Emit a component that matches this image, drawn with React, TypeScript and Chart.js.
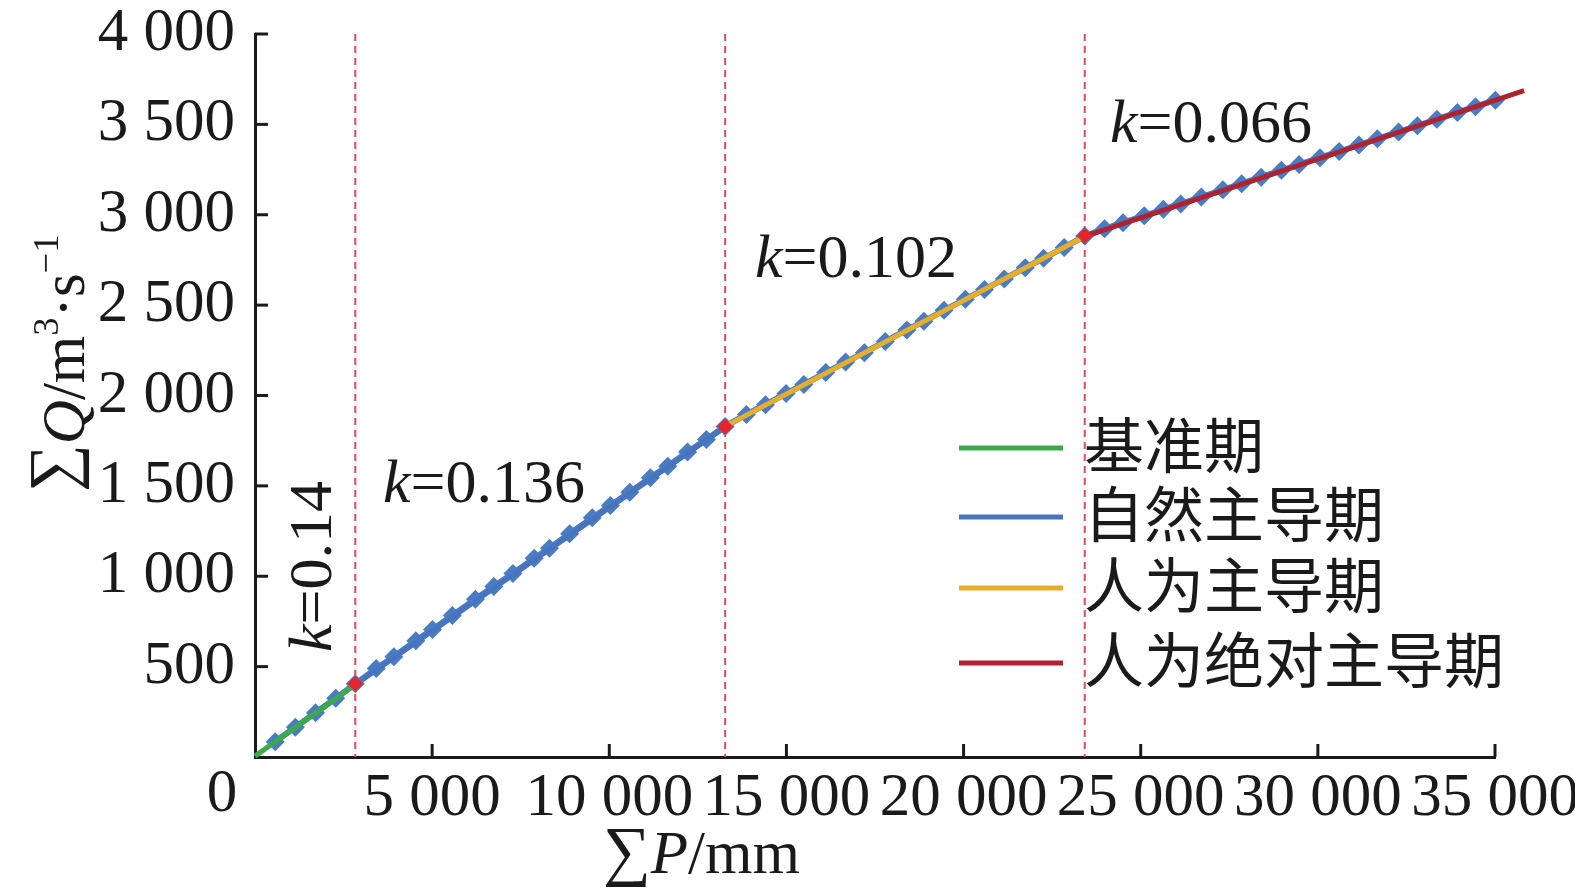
import React, { useEffect, useRef } from 'react';
import { Chart, registerables } from 'chart.js';

Chart.register(...registerables);

// cumulative precipitation (mm) and cumulative runoff (m3/s), one point per year
const cumP = [
  570, 1140, 1710, 2280, 2830,
  3420, 3920, 4540, 5010, 5570, 6220, 6740, 7280, 7880, 8310,
  8880, 9520, 10030, 10580, 11160, 11650, 12210, 12740, 13270,
  13870, 14410, 14990, 15490, 16110, 16670, 17200, 17790, 18400,
  18880, 19450, 20050, 20590, 21150, 21740, 22260, 22840, 23420,
  23980, 24500, 25100, 25640, 26130, 26710, 27320, 27850, 28400, 28970, 29470,
  30060, 30600, 31160, 31680, 32280, 32810, 33360, 33940, 34450, 35010, 35550,
];
const cumQ = [
  85, 165, 245, 325, 405,
  489, 555, 643, 705, 783, 873, 943, 1015, 1099, 1155,
  1235, 1323, 1391, 1465, 1545, 1609, 1687, 1757, 1829,
  1895, 1949, 2011, 2061, 2127, 2185, 2237, 2299, 2363,
  2411, 2471, 2533, 2587, 2645, 2707, 2759, 2819, 2882,
  2922, 2956, 2994, 3030, 3060, 3098, 3138, 3172, 3208, 3246, 3278,
  3316, 3350, 3386, 3420, 3458, 3492, 3528, 3566, 3598, 3634, 3672,
];

// change points between periods
const breakP = [2830, 13270, 23420];
const breakQ = [405, 1829, 2882];

// fitted line of each period: start and end
const fitP = [[0, 2830], [2830, 13270], [13270, 23420], [23420, 35820]];
const fitQ = [[5, 400], [400, 1825], [1829, 2880], [2880, 3687]];

const periodNames = ['基准期', '自然主导期', '人为主导期', '人为绝对主导期'];
const periodColors = ['#3ea84c', '#4873be', '#e6ae2a', '#ae2330'];
const slopes = ['0.14', '0.136', '0.102', '0.066'];

const SERIF = "'Liberation Serif', 'Times New Roman', serif";
const CJK = "'Noto Sans CJK SC', sans-serif";
const FS = 61;
const KS = 62;
const INK = '#1a1a1a';

const fmt = (v: number) =>
  v >= 1000 ? `${Math.floor(v / 1000)} ${String(v % 1000).padStart(3, '0')}` : String(v);

// draw a run of [text, italic, superscript, scale, dy] pieces from the current origin
type Run = [string, boolean, boolean, number?, number?];
const drawRuns = (ctx: CanvasRenderingContext2D, runs: Run[], size: number) => {
  let cx = 0;
  runs.forEach(([t, it, sup, sc, dy]) => {
    const s = (sup ? size * 0.6 : size) * (sc ?? 1);
    ctx.font = `${it ? 'italic ' : ''}${s}px ${SERIF}`;
    ctx.fillText(t, cx, (sup ? -size * 0.42 : 0) + (dy ?? 0));
    cx += ctx.measureText(t).width;
  });
  return cx;
};

const decor = {
  id: 'decor',
  beforeDatasetsDraw(chart: any) {
    const { ctx, chartArea, scales } = chart;
    ctx.save();
    ctx.strokeStyle = '#e04a5c';
    ctx.lineWidth = 2;
    ctx.setLineDash([7, 5]);
    breakP.forEach((p) => {
      const px = scales.x.getPixelForValue(p);
      ctx.beginPath();
      ctx.moveTo(px, chartArea.top);
      ctx.lineTo(px, chartArea.bottom);
      ctx.stroke();
    });
    ctx.restore();
  },
  afterDraw(chart: any) {
    const { ctx, chartArea, scales } = chart;
    const { x, y } = scales;
    ctx.save();
    ctx.fillStyle = INK;
    ctx.strokeStyle = INK;
    ctx.lineWidth = 3;

    // inward tick marks
    x.ticks.forEach((t: any) => {
      if (t.value === 0) return;
      const px = x.getPixelForValue(t.value);
      ctx.beginPath();
      ctx.moveTo(px, chartArea.bottom);
      ctx.lineTo(px, chartArea.bottom - 13);
      ctx.stroke();
    });
    y.ticks.forEach((t: any) => {
      if (t.value === 0) return;
      const py = y.getPixelForValue(t.value);
      ctx.beginPath();
      ctx.moveTo(chartArea.left, py);
      ctx.lineTo(chartArea.left + 13, py);
      ctx.stroke();
    });

    // origin label
    ctx.font = `${FS}px ${SERIF}`;
    ctx.textAlign = 'center';
    ctx.textBaseline = 'alphabetic';
    ctx.fillText('0', x.getPixelForValue(0) - 33, 811);

    // axis titles
    ctx.textAlign = 'left';
    ctx.save();
    ctx.translate(603, 873);
    drawRuns(ctx, [['∑', false, false, 1.1], ['P', true, false], ['/mm', false, false]], FS);
    ctx.restore();

    ctx.save();
    ctx.translate(84, 492);
    ctx.rotate(-Math.PI / 2);
    drawRuns(ctx, [['∑', false, false, 1.1, -9], ['Q', true, false], ['/m', false, false], ['3', false, true],
      ['·s', false, false], ['−1', false, true]], FS);
    ctx.restore();

    // slope labels
    const kRun = (s: string): Run[] => [['k', true, false], ['=' + s, false, false]];
    ctx.save();
    ctx.translate(331, 652);
    ctx.rotate(-Math.PI / 2);
    drawRuns(ctx, kRun(slopes[0]), KS);
    ctx.restore();
    const kPos = [[383, 502], [755, 277], [1110, 142]];
    kPos.forEach(([lx, ly], i) => {
      ctx.save();
      ctx.translate(lx, ly);
      drawRuns(ctx, kRun(slopes[i + 1]), KS);
      ctx.restore();
    });

    // legend
    ctx.textBaseline = 'middle';
    ctx.font = `60px ${CJK}`;
    const legendY = [448, 517, 588, 663];
    periodNames.forEach((name, i) => {
      const ly = legendY[i];
      ctx.strokeStyle = periodColors[i];
      ctx.lineWidth = 5;
      ctx.beginPath();
      ctx.moveTo(959, ly);
      ctx.lineTo(1063, ly);
      ctx.stroke();
      ctx.fillStyle = INK;
      ctx.fillText(name, 1084, ly - 3);
    });
    ctx.restore();
  },
};

export default function App() {
  const canvasRef = useRef<HTMLCanvasElement>(null);

  useEffect(() => {
    if (!canvasRef.current) return;
    const points = cumP.map((p, i) => ({ x: p, y: cumQ[i] }));
    const fits = fitP.map((ps, i) => ({
      label: periodNames[i],
      data: ps.map((p, j) => ({ x: p, y: fitQ[i][j] })),
      showLine: true,
      borderColor: periodColors[i],
      borderWidth: 5,
      pointRadius: 0,
      clip: false as const,
    }));
    const chart = new Chart(canvasRef.current, {
      type: 'scatter',
      data: {
        datasets: [
          {
            label: 'break',
            data: breakP.map((p, i) => ({ x: p, y: breakQ[i] })),
            pointStyle: 'rectRot',
            pointRadius: 8,
            pointBackgroundColor: '#e2262c',
            pointBorderWidth: 0,
            clip: false as const,
          },
          ...fits,
          {
            label: 'data',
            data: points,
            showLine: true,
            borderColor: '#4a7cc4',
            borderWidth: 6,
            pointStyle: 'rectRot',
            pointRadius: 9.5,
            pointBackgroundColor: '#4a7cc4',
            pointBorderWidth: 0,
            clip: false as const,
          },
        ],
      },
      options: {
        responsive: false,
        animation: false,
        layout: { padding: { top: 34, right: 80, left: 0, bottom: 0 } },
        plugins: { legend: { display: false }, tooltip: { enabled: false } },
        scales: {
          x: {
            type: 'linear',
            min: 0,
            max: 35000,
            afterFit: (s: any) => {
              s.height = 138;
              s.paddingLeft = 0;
              s.paddingRight = 0;
              s.paddingTop = 0;
              s.paddingBottom = 0;
            },
            grid: { display: false, drawTicks: false },
            border: { display: true, color: INK, width: 3 },
            ticks: {
              stepSize: 5000,
              maxRotation: 0,
              autoSkip: false,
              padding: 11,
              color: INK,
              font: { family: SERIF, size: FS, lineHeight: 1 },
              callback: (v: any) => (v === 0 ? '' : fmt(Number(v))),
            },
          },
          y: {
            type: 'linear',
            min: 0,
            max: 4000,
            afterFit: (s: any) => {
              s.width = 255;
              s.paddingLeft = 0;
              s.paddingRight = 0;
              s.paddingTop = 0;
              s.paddingBottom = 0;
            },
            grid: { display: false, drawTicks: false },
            border: { display: true, color: INK, width: 3 },
            ticks: {
              stepSize: 500,
              padding: 20,
              color: INK,
              font: { family: SERIF, size: FS, lineHeight: 1 },
              callback: (v: any) => (v === 0 ? '' : fmt(Number(v))),
            },
          },
        },
      },
      plugins: [decor],
    });
    return () => chart.destroy();
  }, []);

  return (
    <div style={{ position: 'fixed', left: 0, top: 0, width: 1575, height: 895, background: '#fff' }}>
      <canvas ref={canvasRef} width={1575} height={895} />
    </div>
  );
}
